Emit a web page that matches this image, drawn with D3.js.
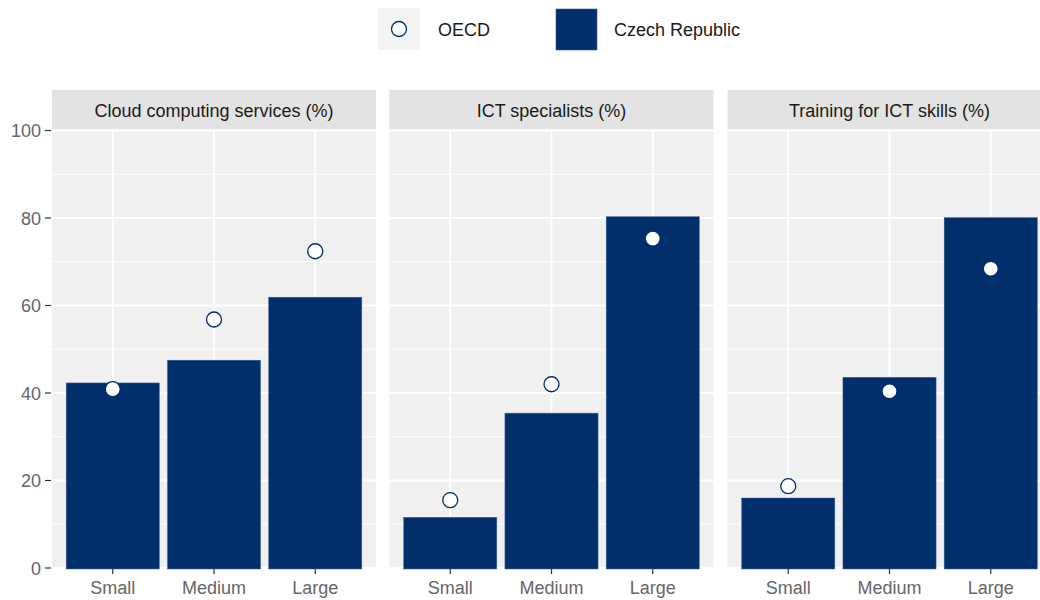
<!DOCTYPE html>
<html><head><meta charset="utf-8">
<script src="https://cdn.jsdelivr.net/npm/d3@7"></script>
<style>
body{margin:0;background:#fff;}
svg{display:block;font-family:"Liberation Sans Narrow","Arial Narrow","Liberation Sans",Arial,sans-serif;}
</style></head>
<body><svg id="c" width="1040" height="600"></svg>
<script>
const panels = ["Cloud computing services (%)", "ICT specialists (%)", "Training for ICT skills (%)"];
const sizes = ["Small", "Medium", "Large"];
const czech = [[42.3, 47.5, 61.9], [11.6, 35.4, 80.3], [16.0, 43.6, 80.1]];
const oecd  = [[40.9, 56.8, 72.4], [15.5, 42.0, 75.3], [18.7, 40.4, 68.4]];
const yTicks = [0, 20, 40, 60, 80, 100];
const yMinor = [10, 30, 50, 70, 90];
const legendItems = ["OECD", "Czech Republic"];

const blue = "#002F6C";
const svg = d3.select("#c");
const panelX = [52, 389.5, 727.5];
const panelW = 324;
const pTop = 130.5, pBottom = 568;

const y = d3.scaleLinear().domain([0, 100]).range([pBottom, pTop]);

// legend
const lg = svg.append("g");
lg.append("rect").attr("x", 378).attr("y", 8).attr("width", 42).attr("height", 42).attr("fill", "#f4f4f4");
lg.append("circle").attr("cx", 399).attr("cy", 29).attr("r", 7.5).attr("fill", "#fff").attr("stroke", blue).attr("stroke-width", 1.3);
lg.append("text").attr("x", 438).attr("y", 35.5).attr("font-size", 18).attr("fill", "#1a1a1a").text(legendItems[0]);
lg.append("rect").attr("x", 556).attr("y", 9).attr("width", 41).attr("height", 41).attr("fill", blue).attr("stroke", "#3a5a8a").attr("stroke-width", 0.6);
lg.append("text").attr("x", 614).attr("y", 35.5).attr("font-size", 18).attr("fill", "#1a1a1a").text(legendItems[1]);

panels.forEach((title, i) => {
  const x0 = panelX[i];
  const x = d3.scaleBand().domain(sizes).range([x0, x0 + panelW]).paddingInner(0).paddingOuter(0.1);
  const step = x.step();
  const cx = d => x(d) + step / 2;
  const g = svg.append("g");
  // strip
  g.append("rect").attr("x", x0).attr("y", 90).attr("width", panelW).attr("height", 39.5).attr("fill", "#e3e3e3");
  g.append("text").attr("x", x0 + panelW / 2).attr("y", 117).attr("text-anchor", "middle")
    .attr("font-size", 18).attr("fill", "#1a1a1a").text(title);
  // panel bg
  g.append("rect").attr("x", x0).attr("y", pTop).attr("width", panelW).attr("height", pBottom - pTop).attr("fill", "#f0f0f0");
  // grid
  g.selectAll(".mn").data(yMinor).join("line")
    .attr("x1", x0).attr("x2", x0 + panelW).attr("y1", d => y(d)).attr("y2", d => y(d))
    .attr("stroke", "#fff").attr("stroke-width", 0.9);
  g.selectAll(".mj").data(yTicks).join("line")
    .attr("x1", x0).attr("x2", x0 + panelW).attr("y1", d => y(d)).attr("y2", d => y(d))
    .attr("stroke", "#fff").attr("stroke-width", 1.8);
  g.selectAll(".vx").data(sizes).join("line")
    .attr("x1", cx).attr("x2", cx).attr("y1", pTop).attr("y2", pBottom)
    .attr("stroke", "#fff").attr("stroke-width", 1.8);
  // bars
  const bw = step * 0.92;
  g.selectAll(".bar").data(sizes).join("rect")
    .attr("x", d => cx(d) - bw / 2).attr("width", bw)
    .attr("y", (d, j) => y(czech[i][j])).attr("height", (d, j) => pBottom - y(czech[i][j]) + 1)
    .attr("fill", blue).attr("stroke", "#4a6a9a").attr("stroke-width", 0.5);
  // points
  g.selectAll(".pt").data(sizes).join("circle")
    .attr("cx", cx).attr("cy", (d, j) => y(oecd[i][j])).attr("r", 7.5)
    .attr("fill", "#fff").attr("stroke", blue).attr("stroke-width", 1.3);
  // x axis ticks
  const xa = g.append("g");
  xa.selectAll("line").data(sizes).join("line")
    .attr("x1", cx).attr("x2", cx).attr("y1", pBottom + 1).attr("y2", pBottom + 6)
    .attr("stroke", "#333").attr("stroke-width", 1.2);
  xa.selectAll("text").data(sizes).join("text")
    .attr("x", cx).attr("y", 594).attr("text-anchor", "middle")
    .attr("font-size", 18).attr("fill", "#666").text(d => d);
});

// y axis
const ya = svg.append("g");
ya.selectAll("line").data(yTicks).join("line")
  .attr("x1", 45).attr("x2", 51).attr("y1", d => y(d)).attr("y2", d => y(d))
  .attr("stroke", "#333").attr("stroke-width", 1.2);
ya.selectAll("text").data(yTicks).join("text")
  .attr("x", 41).attr("y", d => y(d) + 6.5).attr("text-anchor", "end")
  .attr("font-size", 18).attr("fill", "#666").text(d => d);
</script></body></html>
